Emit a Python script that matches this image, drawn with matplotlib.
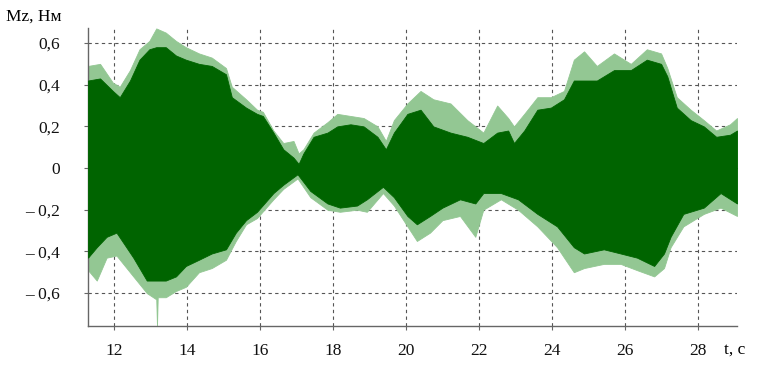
import matplotlib
matplotlib.use("Agg")
import matplotlib.pyplot as plt

# --- data (envelopes of the dense oscillation) ---
# upper envelope
t_up = [11.29, 11.62, 11.97, 12.16, 12.44, 12.70, 12.97, 13.16, 13.42, 13.70, 13.97,
        14.33, 14.68, 15.07, 15.23, 15.62, 15.92, 16.08, 16.37, 16.64, 16.92, 17.06,
        17.19, 17.47, 17.85, 18.12, 18.48, 18.84, 19.22, 19.45, 19.67, 20.04, 20.40,
        20.75, 21.22, 21.68, 22.12, 22.50, 22.80, 22.96, 23.24, 23.60, 23.97, 24.33,
        24.60, 24.88, 25.23, 25.70, 26.16, 26.60, 26.99, 27.16, 27.42, 27.80, 28.16,
        28.50, 28.88, 29.07]
core_up = [0.42, 0.43, 0.37, 0.34, 0.42, 0.52, 0.57, 0.58, 0.58, 0.54, 0.52,
           0.50, 0.49, 0.45, 0.34, 0.29, 0.26, 0.25, 0.17, 0.09, 0.05, 0.02,
           0.07, 0.15, 0.17, 0.20, 0.21, 0.20, 0.15, 0.09, 0.17, 0.26, 0.28,
           0.20, 0.17, 0.15, 0.12, 0.17, 0.18, 0.12, 0.18, 0.28, 0.29, 0.33,
           0.42, 0.42, 0.42, 0.47, 0.47, 0.52, 0.50, 0.44, 0.29, 0.23, 0.20,
           0.15, 0.16, 0.18]
peak_up = [0.49, 0.50, 0.41, 0.39, 0.47, 0.57, 0.61, 0.67, 0.65, 0.61, 0.58,
           0.55, 0.53, 0.48, 0.39, 0.33, 0.28, 0.27, 0.18, 0.12, 0.13, 0.07,
           0.09, 0.17, 0.22, 0.26, 0.25, 0.24, 0.20, 0.13, 0.23, 0.31, 0.37,
           0.33, 0.31, 0.23, 0.17, 0.30, 0.24, 0.20, 0.26, 0.34, 0.34, 0.37,
           0.52, 0.56, 0.49, 0.55, 0.50, 0.57, 0.55, 0.48, 0.34, 0.28, 0.23,
           0.18, 0.21, 0.24]
# lower envelope
t_lo = [11.29, 11.53, 11.80, 12.07, 12.53, 12.90, 13.16, 13.18, 13.20, 13.42, 13.70,
        13.97, 14.33, 14.68, 15.07, 15.34, 15.62, 15.92, 16.37, 16.64, 17.03, 17.38,
        17.85, 18.19, 18.66, 18.93, 19.37, 19.67, 20.04, 20.30, 20.66, 21.00, 21.48,
        21.90, 22.12, 22.60, 23.07, 23.60, 24.14, 24.60, 24.88, 25.42, 25.88, 26.33,
        26.80, 27.07, 27.25, 27.60, 28.16, 28.62, 29.07]
core_lo = [-0.43, -0.38, -0.33, -0.31, -0.43, -0.54, -0.54, -0.54, -0.54, -0.54, -0.52,
           -0.47, -0.44, -0.41, -0.39, -0.31, -0.25, -0.21, -0.12, -0.08, -0.03, -0.11,
           -0.17, -0.19, -0.18, -0.15, -0.09, -0.14, -0.23, -0.27, -0.23, -0.19, -0.15,
           -0.17, -0.12, -0.12, -0.15, -0.22, -0.28, -0.38, -0.41, -0.39, -0.41, -0.43,
           -0.47, -0.41, -0.33, -0.22, -0.19, -0.12, -0.17]
peak_lo = [-0.49, -0.54, -0.43, -0.42, -0.52, -0.60, -0.63, -0.76, -0.62, -0.62, -0.59,
           -0.57, -0.50, -0.48, -0.44, -0.35, -0.27, -0.24, -0.15, -0.10, -0.05, -0.14,
           -0.20, -0.21, -0.20, -0.21, -0.12, -0.18, -0.28, -0.35, -0.31, -0.25, -0.23,
           -0.33, -0.20, -0.15, -0.20, -0.28, -0.38, -0.50, -0.48, -0.46, -0.46, -0.49,
           -0.52, -0.48, -0.38, -0.28, -0.22, -0.19, -0.23]

x_ticks = [12, 14, 16, 18, 20, 22, 24, 26, 28]
x_labels = ["12", "14", "16", "18", "20", "22", "24", "26", "28"]
y_ticks = [-0.6, -0.4, -0.2, 0.0, 0.2, 0.4, 0.6]
y_labels = ["\u2013 0,6", "\u2013 0,4", "\u2013 0,2", "0", "0,2", "0,4", "0,6"]

plt.rcParams['font.family'] = ['Liberation Serif', 'DejaVu Serif']

fig = plt.figure(figsize=(7.6, 3.65), dpi=100)
ax = fig.add_axes([88/760, 39/365, (737-88)/760, (326-28)/365])

dark = '#006400'
light = '#93c793'

ax.fill_between(t_up, 0, peak_up, facecolor=light, edgecolor=light, lw=0.6, zorder=2)
ax.fill_between(t_lo, 0, peak_lo, facecolor=light, edgecolor=light, lw=0.6, zorder=2)
ax.fill_between(t_up, 0, core_up, facecolor=dark, edgecolor=dark, lw=0.6, zorder=3)
ax.fill_between(t_lo, 0, core_lo, facecolor=dark, edgecolor=dark, lw=0.6, zorder=3)

ax.set_xlim(11.29, 29.07)
ax.set_ylim(-0.758, 0.672)
ax.set_xticks(x_ticks)
ax.set_xticklabels(x_labels)
ax.set_yticks(y_ticks)
ax.set_yticklabels(y_labels)

ax.grid(True, color='#555555', linestyle=(0, (3, 3)), linewidth=0.8, zorder=1)
ax.set_axisbelow(True)
for s in ['top', 'right']:
    ax.spines[s].set_visible(False)
for s in ['left', 'bottom']:
    ax.spines[s].set_color('#666666')
    ax.spines[s].set_linewidth(1.0)
ax.tick_params(axis='both', length=3, color='#666666', labelsize=12.5, colors='#111111')
ax.tick_params(axis='y', pad=17)
ax.tick_params(axis='x', pad=9)

fig.text(62/760, 1 - 17/365, "Mz, Нм", ha='right', va='center', fontsize=12.5)
fig.text(724/760, 1 - 350/365, "t, c", ha='left', va='center', fontsize=12.5)

fig.savefig("out.png", dpi=100)
